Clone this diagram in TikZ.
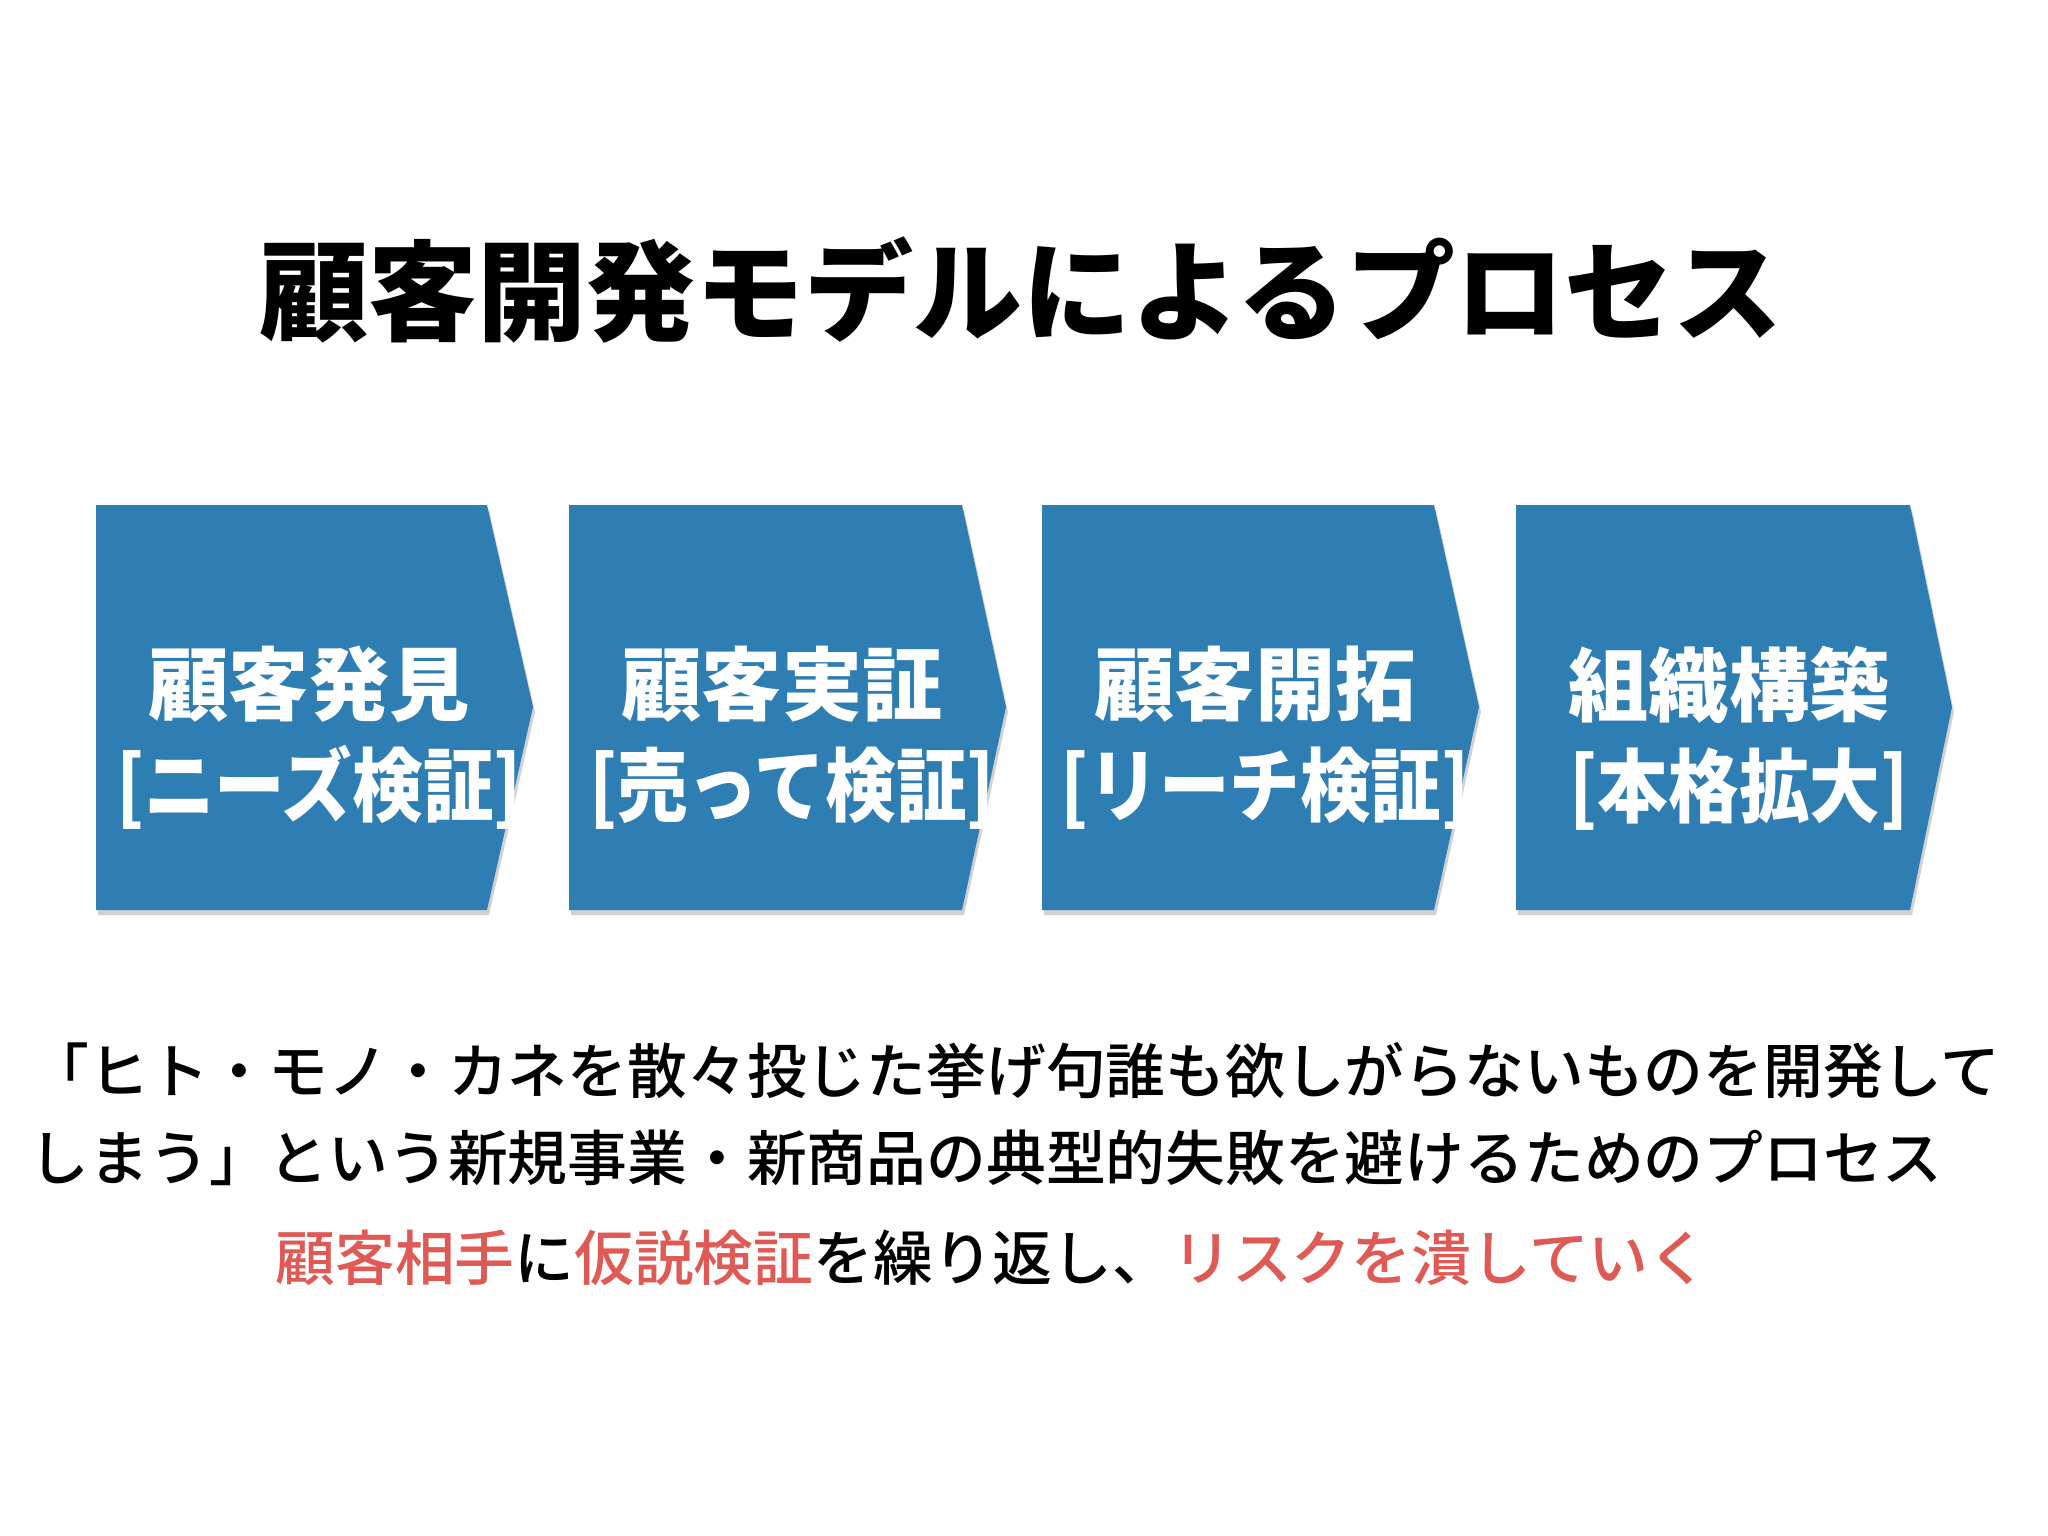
\documentclass[tikz,border=0pt]{standalone}
\usepackage{fontspec}
\setmainfont{Noto Sans CJK JP}
\newfontfamily\medfont{Noto Sans CJK JP Medium}
\usepackage{tikz}
\definecolor{chevblue}{HTML}{2E7DB3}
\definecolor{riskred}{HTML}{E05A55}
\newcommand{\brk}[1]{\hspace*{0.25em}\scalebox{0.88}[1]{{[}#1]}}
\tikzset{
  chevfill/.style={fill=chevblue},
  chevshadow/.style={fill=black, opacity=0.18},
  chevtext/.style={text=white, align=center, font=\bfseries\fontsize{22.8}{28.7}\selectfont},
  bodytext/.style={align=left, inner sep=0pt, font=\medfont\fontsize{17}{24.8}\selectfont},
}

\begin{document}
\begin{tikzpicture}[x=0.01cm, y=-0.01cm]
				      \useasboundingbox[fill=white] (0, 0) rectangle (2048, 1536);
				      \node[font=\bfseries\fontsize{31}{36}\selectfont] (title) at (1021, 290) {顧客開発モデルによるプロセス};
				      % chevrons
				      \fill[chevshadow] (98, 510) -- (489, 510) -- (535, 712) -- (489, 915) -- (98, 915) -- cycle;
				      \fill[chevfill] (96, 505) -- (487, 505) -- (533, 707) -- (487, 910) -- (96, 910) -- cycle;
				      \fill[chevshadow] (571, 510) -- (964, 510) -- (1008, 712) -- (964, 915) -- (571, 915) -- cycle;
				      \fill[chevfill] (569, 505) -- (962, 505) -- (1006, 707) -- (962, 910) -- (569, 910) -- cycle;
				      \fill[chevshadow] (1044, 510) -- (1436, 510) -- (1481, 712) -- (1436, 915) -- (1044, 915) -- cycle;
				      \fill[chevfill] (1042, 505) -- (1434, 505) -- (1479, 707) -- (1434, 910) -- (1042, 910) -- cycle;
				      \fill[chevshadow] (1518, 510) -- (1912, 510) -- (1954, 712) -- (1912, 915) -- (1518, 915) -- cycle;
				      \fill[chevfill] (1516, 505) -- (1910, 505) -- (1952, 707) -- (1910, 910) -- (1516, 910) -- cycle;
				      \node[chevtext] (discovery) at (309, 738) {顧客発見\\\brk{ニーズ検証}};
				      \node[chevtext] (validation) at (782, 738) {顧客実証\\\brk{売って検証}};
				      \node[chevtext] (creation) at (1255, 738) {顧客開拓\\\brk{リーチ検証}};
				      \node[chevtext] (building) at (1729, 738) {組織構築\\\brk{本格拡大}};
				      % text below
				      \node[bodytext, anchor=west] (failure) at (29, 1114) {「ヒト・モノ・カネを散々投じた挙げ句誰も欲しがらないものを開発して\\しまう」という新規事業・新商品の典型的失敗を避けるためのプロセス};
				      \node[bodytext] (risk) at (992, 1258) {\textcolor{riskred}{顧客相手}に\textcolor{riskred}{仮説検証}を繰り返し、\textcolor{riskred}{リスクを潰していく}};
			      \end{tikzpicture}
\end{document}
